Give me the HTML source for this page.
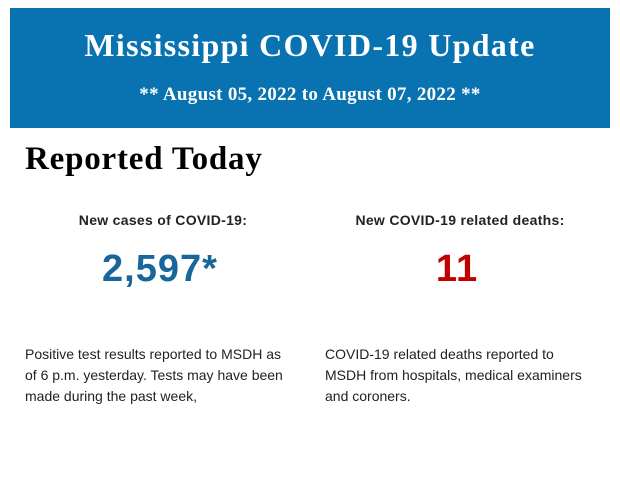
<!DOCTYPE html>
<html><head><style>
body{margin:0;width:620px;height:483px;background:#fff;position:relative;overflow:hidden;font-family:"Liberation Sans",sans-serif}
.ban{position:absolute;left:10px;top:8px;width:600px;height:120px;background:#0873b0;color:#fff;font-family:"Liberation Serif",serif;font-weight:bold;text-align:center}
.t1{position:absolute;top:19px;width:100%;font-size:32px;letter-spacing:1.3px}
.t2{position:absolute;top:76px;width:100%;font-size:19px;letter-spacing:0.3px}
.h{position:absolute;left:25px;top:141px;font-family:"Liberation Serif",serif;font-weight:bold;font-size:33px;letter-spacing:0.8px;color:#000}
.lab{position:absolute;top:212px;font-size:14px;font-weight:bold;color:#222;text-align:center;width:300px;letter-spacing:0.3px}
.num{position:absolute;top:248px;font-size:38px;font-weight:bold;text-align:center;width:300px;letter-spacing:1px}
.p{position:absolute;top:344px;font-size:14px;line-height:21px;color:#222;width:273px}
</style></head><body>
<div class="ban"><div class="t1">Mississippi COVID-19 Update</div><div class="t2">** August 05, 2022 to August 07, 2022 **</div></div>
<div class="h">Reported Today</div>
<div class="lab" style="left:13px">New cases of COVID-19:</div>
<div class="lab" style="left:310px">New COVID-19 related deaths:</div>
<div class="num" style="left:10px;color:#19679a">2,597*</div>
<div class="num" style="left:307px;color:#c00000">11</div>
<div class="p" style="left:25px">Positive test results reported to MSDH as<br>of 6 p.m. yesterday. Tests may have been<br>made during the past week,</div>
<div class="p" style="left:325px;width:290px">COVID-19 related deaths reported to<br>MSDH from hospitals, medical examiners<br>and coroners.</div>
</body></html>
